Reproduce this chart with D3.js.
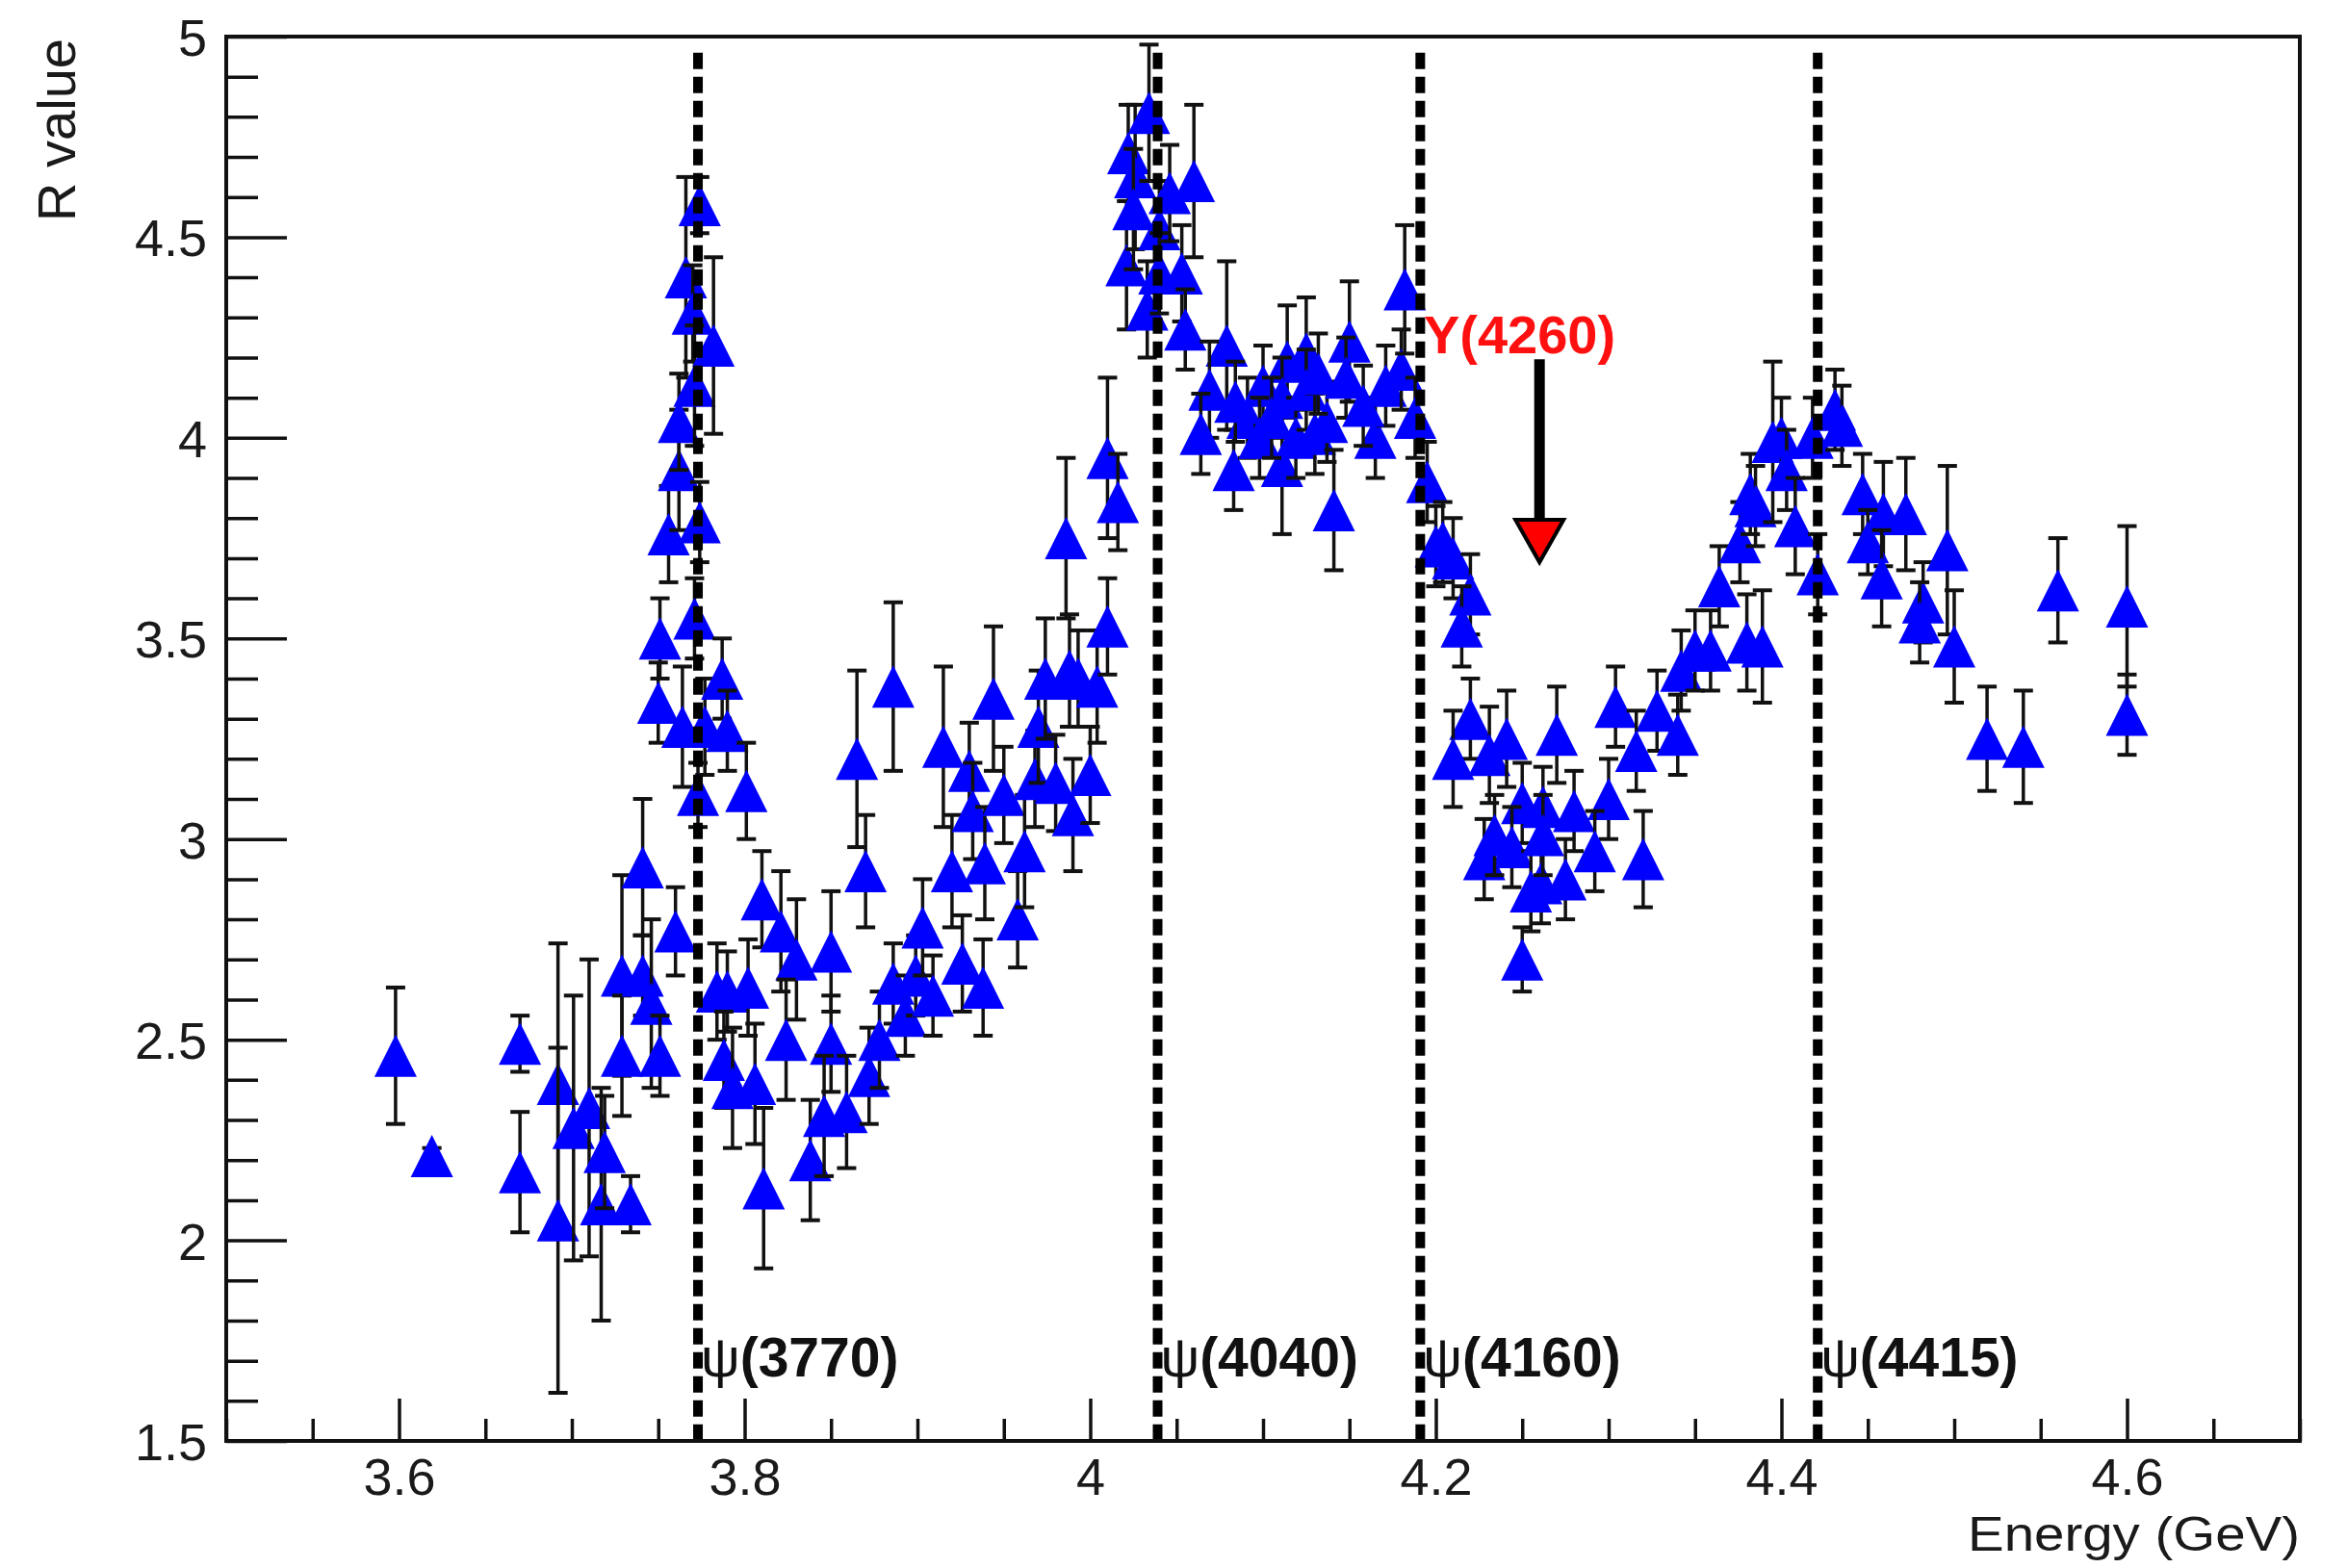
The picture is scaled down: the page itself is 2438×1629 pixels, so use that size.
<!DOCTYPE html>
<html>
<head>
<meta charset="utf-8">
<script src="https://cdn.jsdelivr.net/npm/d3@7"></script>
<style>
	body { margin: 0; background: #fff; }
	svg { display: block; font-family: "Liberation Sans", Arial, sans-serif; }
</style>
</head>
<body>
<svg id="chart" width="2438" height="1629"></svg>
<script>
// R scan points: energy (GeV), R value, error
var energy = [
	3.598, 3.619, 3.670, 3.670, 3.692, 3.692, 3.701, 3.710, 3.717, 3.719,
	3.734, 3.729, 3.729, 3.741, 3.741, 3.746, 3.751, 3.750, 3.751, 3.760,
	3.756, 3.762, 3.762, 3.766, 3.770, 3.771, 3.774, 3.774, 3.771, 3.764,
	3.777, 3.773, 3.782, 3.787, 3.790, 3.801, 3.784, 3.790, 3.802, 3.788,
	3.793, 3.806, 3.811, 3.810, 3.821, 3.830, 3.824, 3.838, 3.850, 3.850,
	3.846, 3.859, 3.865, 3.870, 3.872, 3.878, 3.886, 3.886, 3.893, 3.899,
	3.903, 3.909, 3.915, 3.920, 3.926, 3.930, 3.932, 3.938, 3.939, 3.944,
	3.950, 3.958, 3.962, 3.968, 3.970, 3.974, 3.980, 3.986, 3.988, 3.993,
	3.990, 4.000, 4.004, 4.010, 4.010, 4.016, 4.021, 4.022, 4.026, 4.025,
	4.034, 4.033, 4.040, 4.040, 4.046, 4.053, 4.060, 4.055, 4.079, 4.069,
	4.064, 4.083, 4.091, 4.100, 4.098, 4.111, 4.114, 4.111, 4.119, 4.125,
	4.125, 4.130, 4.137, 4.141, 4.150, 4.148, 4.165, 4.171, 4.180, 4.182,
	4.188, 4.195, 4.204, 4.084, 4.105, 4.132, 4.158, 4.200, 4.210, 4.220,
	4.215, 4.220, 4.210, 4.231, 4.241, 4.270, 4.304, 4.328, 4.340, 4.342,
	4.316, 4.250, 4.262, 4.280, 4.300, 4.292, 4.320, 4.228, 4.244, 4.261,
	4.275, 4.255, 4.250, 4.234, 4.262, 4.350, 4.359, 4.364, 4.380, 4.389,
	4.376, 4.382, 4.385, 4.395, 4.400, 4.403, 4.408, 4.418, 4.431, 4.435,
	4.421, 4.447, 4.459, 4.472, 4.450, 4.458, 4.482, 4.480, 4.496, 4.500,
	4.519, 4.540, 4.560, 4.600, 4.600
];
var rValue = [
	2.46, 2.21, 2.49, 2.17, 2.39, 2.05, 2.28, 2.33, 2.09, 2.22,
	2.09, 2.66, 2.46, 2.93, 2.66, 2.59, 2.46, 3.34, 3.50, 2.77,
	3.76, 3.92, 4.04, 4.40, 4.31, 4.13, 4.58, 3.79, 3.55, 3.28,
	3.28, 3.11, 4.23, 3.40, 3.27, 3.12, 2.62, 2.62, 2.63, 2.45,
	2.38, 2.39, 2.13, 2.85, 2.77, 2.70, 2.50, 2.20, 2.72, 2.49,
	2.31, 2.32, 3.20, 2.92, 2.41, 2.50, 3.38, 2.64, 2.56, 2.66,
	2.78, 2.61, 3.23, 2.92, 2.69, 3.17, 3.07, 2.63, 2.94, 3.35,
	3.11, 2.80, 2.97, 3.15, 3.28, 3.40, 3.14, 3.75, 3.42, 3.40,
	3.06, 3.16, 3.38, 3.53, 3.95, 3.84, 4.43, 4.71, 4.65, 4.57,
	4.81, 4.32, 4.52, 4.41, 4.61, 4.41, 4.64, 4.27, 4.23, 4.12,
	4.01, 3.92, 4.05, 4.13, 4.00, 3.93, 4.19, 4.10, 4.00, 4.21,
	4.12, 4.01, 4.04, 3.82, 4.24, 4.15, 4.00, 4.13, 4.17, 4.37,
	4.05, 3.89, 3.74, 4.09, 4.05, 4.16, 4.08, 3.73, 3.70, 3.61,
	3.53, 3.30, 3.20, 3.21, 3.25, 3.26, 3.33, 3.32, 3.26, 3.42,
	3.22, 3.09, 3.08, 3.07, 3.10, 2.97, 2.95, 2.95, 2.98, 2.89,
	2.90, 2.87, 2.70, 3.01, 3.01, 3.47, 3.47, 3.63, 3.49, 3.48,
	3.74, 3.86, 3.83, 3.99, 4.00, 3.92, 3.78, 4.00, 4.07, 4.03,
	3.66, 3.86, 3.81, 3.81, 3.74, 3.65, 3.59, 3.54, 3.72, 3.48,
	3.25, 3.23, 3.62, 3.58, 3.31
];
var rError = [
	0.17, 0.02, 0.07, 0.15, 0.35, 0.43, 0.33, 0.37, 0.29, 0.14,
	0.07, 0.25, 0.15, 0.17, 0.10, 0.21, 0.10, 0.10, 0.10, 0.11,
	0.12, 0.15, 0.12, 0.25, 0.12, 0.15, 0.07, 0.10, 0.10, 0.15,
	0.12, 0.08, 0.22, 0.10, 0.10, 0.12, 0.12, 0.10, 0.12, 0.12,
	0.15, 0.15, 0.20, 0.12, 0.15, 0.15, 0.15, 0.15, 0.15, 0.12,
	0.15, 0.14, 0.22, 0.14, 0.12, 0.12, 0.21, 0.10, 0.10, 0.10,
	0.12, 0.10, 0.20, 0.14, 0.12, 0.12, 0.12, 0.12, 0.14, 0.18,
	0.12, 0.12, 0.14, 0.12, 0.14, 0.15, 0.12, 0.20, 0.14, 0.12,
	0.14, 0.12, 0.14, 0.12, 0.20, 0.12, 0.16, 0.12, 0.18, 0.15,
	0.17, 0.12, 0.12, 0.10, 0.12, 0.12, 0.19, 0.10, 0.21, 0.12,
	0.10, 0.10, 0.10, 0.10, 0.10, 0.17, 0.14, 0.10, 0.10, 0.14,
	0.10, 0.10, 0.10, 0.15, 0.15, 0.10, 0.10, 0.10, 0.10, 0.16,
	0.10, 0.10, 0.10, 0.10, 0.10, 0.10, 0.10, 0.10, 0.10, 0.10,
	0.10, 0.10, 0.12, 0.12, 0.12, 0.12, 0.10, 0.10, 0.10, 0.10,
	0.10, 0.10, 0.10, 0.10, 0.10, 0.10, 0.12, 0.10, 0.10, 0.10,
	0.10, 0.10, 0.08, 0.10, 0.10, 0.10, 0.10, 0.10, 0.12, 0.14,
	0.10, 0.10, 0.10, 0.20, 0.10, 0.10, 0.12, 0.10, 0.10, 0.10,
	0.10, 0.10, 0.13, 0.14, 0.08, 0.12, 0.10, 0.10, 0.21, 0.14,
	0.13, 0.14, 0.13, 0.20, 0.10
];

var resonanceMass = [3.773, 4.039, 4.191, 4.421];
var resonanceName = ["(3770)", "(4040)", "(4160)", "(4415)"];

var xMajorTicks = [3.6, 3.8, 4.0, 4.2, 4.4, 4.6];
var yMajorTicks = [1.5, 2, 2.5, 3, 3.5, 4, 4.5, 5];

// Y(4260) marker: position and arrow span in R
var yMass = 4.26, yArrowTop = 4.196, yArrowBase = 3.796, yArrowTip = 3.69;

var margin = {top: 38, right: 49, bottom: 132, left: 235},
		width = 2438 - margin.left - margin.right,
		height = 1629 - margin.top - margin.bottom;

var svg = d3.select("#chart");
var g = svg.append("g")
		.attr("transform", "translate(" + margin.left + "," + margin.top + ")");

var x = d3.scaleLinear().domain([3.5, 4.7]).range([0, width]),
		y = d3.scaleLinear().domain([1.5, 5]).range([height, 0]);

var fmt = function(d) { return String(+d.toFixed(2)); };

// minor ticks
var xMinor = d3.range(3.5, 4.70001, 0.05).filter(function(d) {
	return !xMajorTicks.some(function(m) { return Math.abs(m - d) < 1e-6; });
});
var yMinor = d3.range(1.5, 5.0001, 0.1).filter(function(d) {
	return !yMajorTicks.some(function(m) { return Math.abs(m - d) < 1e-6; });
});

g.append("g")
		.attr("class", "axis axis--x-minor")
		.attr("transform", "translate(0," + height + ")")
		.call(d3.axisBottom(x).tickValues(xMinor).tickSize(-23).tickFormat(""));
g.append("g")
		.attr("class", "axis axis--x")
		.attr("transform", "translate(0," + height + ")")
		.call(d3.axisBottom(x).tickValues(xMajorTicks).tickSize(-44).tickPadding(17).tickFormat(fmt));
g.append("g")
		.attr("class", "axis axis--y-minor")
		.call(d3.axisLeft(y).tickValues(yMinor).tickSize(-33).tickFormat(""));
g.append("g")
		.attr("class", "axis axis--y")
		.call(d3.axisLeft(y).tickValues(yMajorTicks).tickSize(-63).tickPadding(20).tickFormat(fmt));

g.selectAll(".axis .domain").remove();
g.selectAll(".axis line")
		.attr("stroke", "#111")
		.attr("stroke-width", 3.5);
g.selectAll(".axis text")
		.attr("fill", "#1a1a1a")
		.style("font-size", "54px")
		.style("font-family", "'Liberation Sans', Arial, sans-serif");
g.selectAll(".axis--x text").attr("dy", "0.72em");
g.selectAll(".axis--y text").attr("dy", "0.36em");

// points with error bars
var points = energy.map(function(e, i) {
	return {e: e, r: rValue[i], err: rError[i]};
});

var pt = g.append("g")
		.attr("class", "points")
	.selectAll("g")
	.data(points)
	.enter().append("g");

pt.append("line")
		.attr("x1", function(d) { return x(d.e); })
		.attr("x2", function(d) { return x(d.e); })
		.attr("y1", function(d) { return y(d.r - d.err); })
		.attr("y2", function(d) { return y(d.r + d.err); })
		.attr("stroke", "#111")
		.attr("stroke-width", 3.5);
[-1, 1].forEach(function(s) {
	pt.append("line")
			.attr("x1", function(d) { return x(d.e) - 10; })
			.attr("x2", function(d) { return x(d.e) + 10; })
			.attr("y1", function(d) { return y(d.r + s * d.err); })
			.attr("y2", function(d) { return y(d.r + s * d.err); })
			.attr("stroke", "#111")
			.attr("stroke-width", 4);
});
pt.append("path")
		.attr("d", "M0,-22L22,22L-22,22Z")
		.attr("transform", function(d) { return "translate(" + x(d.e) + "," + y(d.r) + ")"; })
		.attr("fill", "#0000ff");

// resonance lines and labels
g.append("g")
		.attr("class", "resonances")
	.selectAll("line")
	.data(resonanceMass)
	.enter().append("line")
		.attr("x1", function(d) { return x(d); })
		.attr("x2", function(d) { return x(d); })
		.attr("y1", y(4.96))
		.attr("y2", y(1.5))
		.attr("stroke", "#000")
		.attr("stroke-width", 10)
		.attr("stroke-dasharray", "17 8");

var lab = g.append("g")
		.attr("class", "res-labels")
	.selectAll("text")
	.data(resonanceMass)
	.enter().append("text")
		.attr("x", function(d) { return x(d) + 3; })
		.attr("y", y(1.66))
		.attr("fill", "#111")
		.style("font-size", "57px");
lab.append("tspan")
		.text("\u03c8");
lab.append("tspan")
		.style("font-weight", "bold")
		.text(function(d, i) { return resonanceName[i]; });

// Y(4260) arrow
g.append("line")
		.attr("x1", x(yMass))
		.attr("x2", x(yMass))
		.attr("y1", y(yArrowTop))
		.attr("y2", y(yArrowBase))
		.attr("stroke", "#000")
		.attr("stroke-width", 11);
g.append("path")
		.attr("d", "M" + (x(yMass) - 25) + "," + y(yArrowBase) +
			"L" + (x(yMass) + 25) + "," + y(yArrowBase) +
			"L" + x(yMass) + "," + y(yArrowTip) + "Z")
		.attr("fill", "#ff0000")
		.attr("stroke", "#000")
		.attr("stroke-width", 4)
		.attr("stroke-linejoin", "miter");
g.append("text")
		.attr("x", x(4.193))
		.attr("y", y(4.211))
		.attr("fill", "#ff1010")
		.style("font-size", "56px")
		.style("font-weight", "bold")
		.text("Y(4260)");

// frame
g.append("rect")
		.attr("width", width)
		.attr("height", height)
		.attr("fill", "none")
		.attr("stroke", "#111")
		.attr("stroke-width", 4);

// axis titles
svg.append("text")
		.attr("x", margin.left + width)
		.attr("y", 1611)
		.attr("text-anchor", "end")
		.attr("fill", "#1a1a1a")
		.attr("textLength", 345)
		.attr("lengthAdjust", "spacingAndGlyphs")
		.style("font-size", "50px")
		.text("Energy (GeV)");
svg.append("text")
		.attr("transform", "translate(78,40) rotate(-90)")
		.attr("text-anchor", "end")
		.attr("fill", "#1a1a1a")
		.style("font-size", "56px")
		.text("R value");
</script>
</body>
</html>
